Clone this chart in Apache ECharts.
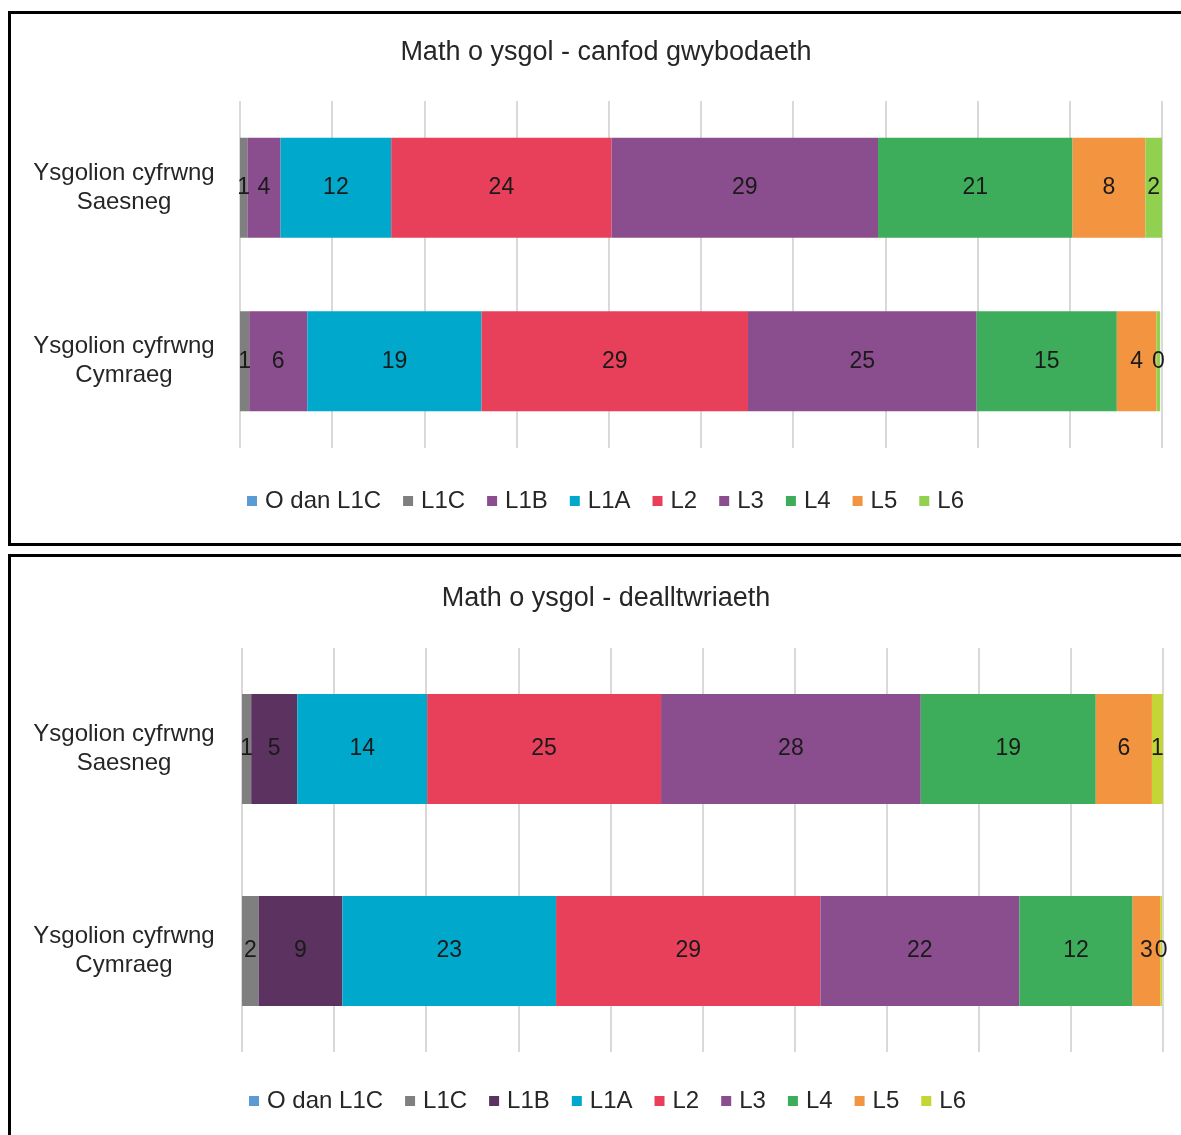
<!DOCTYPE html>
<html>
<head>
<meta charset="utf-8">
<script src="https://cdn.jsdelivr.net/npm/echarts@6/dist/echarts.min.js"></script>
<style>
  html, body { margin: 0; padding: 0; background: #fff; overflow: hidden; }
  #top, #bottom { position: absolute; left: 0; width: 1181px; }
  #top { top: 0; height: 549px; }
  #bottom { top: 549px; height: 586px; }
  .frame { position: absolute; border: 3px solid #000; pointer-events: none; }
</style>
</head>
<body>
<div id="top"></div>
<div id="bottom"></div>
<div class="frame" style="left:8px; top:11px; width:1200px; height:529px;"></div>
<div class="frame" style="left:8px; top:554px; width:1200px; height:600px;"></div>
<script>
// categories (shared by both charts)
const schools = ["Ysgolion cyfrwng\nSaesneg", "Ysgolion cyfrwng\nCymraeg"];
const levels = ["O dan L1C", "L1C", "L1B", "L1A", "L2", "L3", "L4", "L5", "L6"];

// chart 1: canfod gwybodaeth (percent, [Saesneg, Cymraeg])
const title1 = "Math o ysgol - canfod gwybodaeth";
const know_OdanL1C = [0, 0];
const know_L1C = [0.8, 1.0];
const know_L1B = [3.6, 6.3];
const know_L1A = [12.0, 18.9];
const know_L2 = [23.9, 28.9];
const know_L3 = [28.9, 24.8];
const know_L4 = [21.1, 15.2];
const know_L5 = [7.9, 4.3];
const know_L6 = [1.8, 0.4];

// chart 2: dealltwriaeth
const title2 = "Math o ysgol - dealltwriaeth";
const und_OdanL1C = [0, 0];
const und_L1C = [1.0, 1.8];
const und_L1B = [5.0, 9.1];
const und_L1A = [14.1, 23.2];
const und_L2 = [25.4, 28.7];
const und_L3 = [28.2, 21.6];
const und_L4 = [19.0, 12.3];
const und_L5 = [6.1, 3.0];
const und_L6 = [1.2, 0.2];

const colors1 = ["#5B9BD5", "#7F7F7F", "#8A4D8E", "#00A9CC", "#E8405A", "#8A4D8E", "#3DAD5B", "#F39440", "#92D050"];
const colors2 = ["#5B9BD5", "#7F7F7F", "#5C3360", "#00A9CC", "#E8405A", "#8A4D8E", "#3DAD5B", "#F39440", "#C4D636"];

const FONT = "Liberation Sans";

function build(el, title, rows, colors, g) {
  const chart = echarts.init(document.getElementById(el));
  const series = levels.map(function (name, i) {
    return {
      name: name,
      type: "bar",
      stack: "all",
      barWidth: g.barWidth,
      data: rows[i],
      itemStyle: { color: colors[i] },
      label: {
        show: i > 0,
        position: "inside",
        color: "#1a1a1a",
        fontFamily: FONT,
        fontSize: 23,
        formatter: function (p) { return Math.round(p.value); }
      }
    };
  });
  chart.setOption({
    animation: false,
    title: {
      text: title,
      left: 601,
      textAlign: "center",
      top: g.titleTop,
      textStyle: { fontFamily: FONT, fontSize: 27, fontWeight: "normal", color: "#262626" }
    },
    legend: {
      data: levels,
      left: g.legendLeft,
      top: g.legendTop,
      itemWidth: 10,
      itemHeight: 10,
      itemGap: 22,
      icon: "rect",
      textStyle: { fontFamily: FONT, fontSize: 24, color: "#262626", padding: [0, 0, 0, 3] }
    },
    grid: { left: g.left, right: g.right, top: g.top, bottom: g.bottom },
    xAxis: {
      type: "value",
      min: 0,
      max: 100,
      interval: 10,
      axisLabel: { show: false },
      axisLine: { show: false },
      axisTick: { show: false },
      splitLine: { lineStyle: { color: "#d9d9d9", width: 2 } }
    },
    yAxis: {
      type: "category",
      data: schools,
      inverse: true,
      axisLine: { show: false },
      axisTick: { show: false },
      axisLabel: {
        align: "center",
        margin: g.left - 124,
        lineHeight: 29,
        fontFamily: FONT,
        fontSize: 24,
        color: "#262626"
      }
    },
    series: series
  });
  return chart;
}

build("top", title1,
  [know_OdanL1C, know_L1C, know_L1B, know_L1A, know_L2, know_L3, know_L4, know_L5, know_L6],
  colors1,
  { left: 240, right: 19, top: 101, bottom: 101, barWidth: 100, titleTop: 34, legendTop: 484, legendLeft: 242 });

build("bottom", title2,
  [und_OdanL1C, und_L1C, und_L1B, und_L1A, und_L2, und_L3, und_L4, und_L5, und_L6],
  colors2,
  { left: 242, right: 18, top: 99, bottom: 83, barWidth: 110, titleTop: 31, legendTop: 535, legendLeft: 244 });
</script>
</body>
</html>
